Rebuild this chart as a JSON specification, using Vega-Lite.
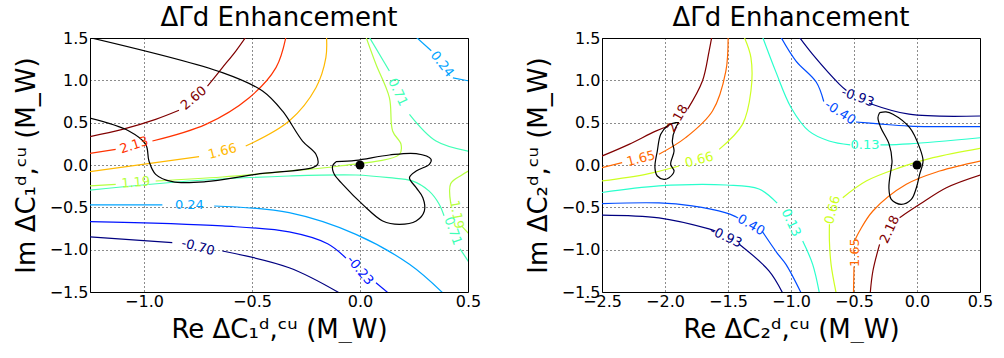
{
"$schema": "https://vega.github.io/schema/vega-lite/v6.json",
"padding": {"left": 12, "top": 4, "right": 5, "bottom": 0},
"spacing": 42,
"resolve": {"scale": {"color": "independent"}},
"config": {
 "font": "DejaVu Sans",
 "view": {"stroke": "black", "strokeWidth": 1},
 "axis": {"grid": true, "gridColor": "#000000", "gridDash": [1, 3], "gridWidth": 1, "gridOpacity": 0.9, "domain": false, "ticks": false, "labelFlush": false, "labelFontSize": 16, "labelColor": "black", "titleFontSize": 26, "titleFontWeight": "normal", "titleColor": "black"},
 "axisX": {"titlePadding": 7, "labelPadding": 1},
 "axisY": {"titlePadding": 10, "labelPadding": 2},
 "title": {"fontSize": 26, "fontWeight": "normal", "offset": -1, "baseline": "alphabetic", "color": "black"}
},
"datasets": {
 "cl": [
  {"lev":"2.60","seg":"2.60a","x":-1.26,"y":0.331},{"lev":"2.60","seg":"2.60a","x":-1.10,"y":0.421},{"lev":"2.60","seg":"2.60a","x":-0.946,"y":0.539},{"lev":"2.60","seg":"2.60a","x":-0.838,"y":0.646},
  {"lev":"2.60","seg":"2.60b","x":-0.706,"y":0.933},{"lev":"2.60","seg":"2.60b","x":-0.637,"y":1.15},{"lev":"2.60","seg":"2.60b","x":-0.575,"y":1.346},{"lev":"2.60","seg":"2.60b","x":-0.529,"y":1.51},
  {"lev":"2.13","seg":"2.13a","x":-1.26,"y":0.134},{"lev":"2.13","seg":"2.13a","x":-1.131,"y":0.185},
  {"lev":"2.13","seg":"2.13b","x":-0.961,"y":0.283},{"lev":"2.13","seg":"2.13b","x":-0.714,"y":0.48},{"lev":"2.13","seg":"2.13b","x":-0.513,"y":0.795},{"lev":"2.13","seg":"2.13b","x":-0.389,"y":1.15},{"lev":"2.13","seg":"2.13b","x":-0.343,"y":1.51},
  {"lev":"1.66","seg":"1.66a","x":-1.26,"y":-0.083},{"lev":"1.66","seg":"1.66a","x":-0.745,"y":0.098},
  {"lev":"1.66","seg":"1.66b","x":-0.529,"y":0.224},{"lev":"1.66","seg":"1.66b","x":-0.328,"y":0.52},{"lev":"1.66","seg":"1.66b","x":-0.204,"y":0.913},{"lev":"1.66","seg":"1.66b","x":-0.158,"y":1.268},{"lev":"1.66","seg":"1.66b","x":-0.155,"y":1.51},
  {"lev":"1.19","seg":"1.19a","x":-1.26,"y":-0.248},{"lev":"1.19","seg":"1.19a","x":-1.131,"y":-0.228},
  {"lev":"1.19","seg":"1.19b","x":-0.946,"y":-0.189},{"lev":"1.19","seg":"1.19b","x":-0.637,"y":-0.142},{"lev":"1.19","seg":"1.19b","x":-0.328,"y":-0.071},{"lev":"1.19","seg":"1.19b","x":-0.096,"y":-0.012},{"lev":"1.19","seg":"1.19b","x":0.182,"y":0.126},{"lev":"1.19","seg":"1.19b","x":0.19,"y":0.244},{"lev":"1.19","seg":"1.19b","x":0.151,"y":0.402},{"lev":"1.19","seg":"1.19b","x":0.136,"y":0.795},{"lev":"1.19","seg":"1.19b","x":0.074,"y":1.189},{"lev":"1.19","seg":"1.19b","x":0.028,"y":1.51},
  {"lev":"1.19","seg":"1.19c","x":0.51,"y":-0.06},{"lev":"1.19","seg":"1.19c","x":0.47,"y":-0.12},{"lev":"1.19","seg":"1.19c","x":0.42,"y":-0.22},{"lev":"1.19","seg":"1.19c","x":0.42,"y":-0.45},
  {"lev":"1.19","seg":"1.19d","x":0.47,"y":-0.72},{"lev":"1.19","seg":"1.19d","x":0.51,"y":-0.83},
  {"lev":"0.71","seg":"0.71a","x":0.043,"y":1.51},{"lev":"0.71","seg":"0.71a","x":0.136,"y":1.11},
  {"lev":"0.71","seg":"0.71b","x":0.229,"y":0.598},{"lev":"0.71","seg":"0.71b","x":0.352,"y":0.283},{"lev":"0.71","seg":"0.71b","x":0.51,"y":0.16},
  {"lev":"0.71","seg":"0.71c","x":-1.26,"y":-0.299},{"lev":"0.71","seg":"0.71c","x":-0.791,"y":-0.189},{"lev":"0.71","seg":"0.71c","x":-0.328,"y":-0.13},{"lev":"0.71","seg":"0.71c","x":-0.019,"y":-0.118},{"lev":"0.71","seg":"0.71c","x":0.136,"y":-0.15},{"lev":"0.71","seg":"0.71c","x":0.241,"y":-0.188},{"lev":"0.71","seg":"0.71c","x":0.319,"y":-0.306},{"lev":"0.71","seg":"0.71c","x":0.366,"y":-0.46},{"lev":"0.71","seg":"0.71c","x":0.389,"y":-0.6},
  {"lev":"0.71","seg":"0.71d","x":0.463,"y":-0.99},{"lev":"0.71","seg":"0.71d","x":0.51,"y":-1.17},
  {"lev":"0.24","seg":"0.24a","x":-1.26,"y":-0.472},{"lev":"0.24","seg":"0.24a","x":-0.915,"y":-0.472},
  {"lev":"0.24","seg":"0.24b","x":-0.675,"y":-0.484},{"lev":"0.24","seg":"0.24b","x":-0.328,"y":-0.563},{"lev":"0.24","seg":"0.24b","x":-0.019,"y":-0.819},{"lev":"0.24","seg":"0.24b","x":0.229,"y":-1.173},{"lev":"0.24","seg":"0.24b","x":0.383,"y":-1.51},
  {"lev":"0.24","seg":"0.24c","x":0.26,"y":1.51},{"lev":"0.24","seg":"0.24c","x":0.33,"y":1.35},
  {"lev":"0.24","seg":"0.24d","x":0.43,"y":1.03},{"lev":"0.24","seg":"0.24d","x":0.51,"y":0.99},
  {"lev":"-0.23","seg":"-0.23a","x":-1.26,"y":-0.669},{"lev":"-0.23","seg":"-0.23a","x":-0.637,"y":-0.72},{"lev":"-0.23","seg":"-0.23a","x":-0.328,"y":-0.79},{"lev":"-0.23","seg":"-0.23a","x":-0.15,"y":-0.93},{"lev":"-0.23","seg":"-0.23a","x":-0.065,"y":-1.1},
  {"lev":"-0.23","seg":"-0.23b","x":0.074,"y":-1.39},{"lev":"-0.23","seg":"-0.23b","x":0.13,"y":-1.51},
  {"lev":"-0.70","seg":"-0.70a","x":-1.26,"y":-0.846},{"lev":"-0.70","seg":"-0.70a","x":-0.869,"y":-0.917},
  {"lev":"-0.70","seg":"-0.70b","x":-0.637,"y":-1.016},{"lev":"-0.70","seg":"-0.70b","x":-0.328,"y":-1.213},{"lev":"-0.70","seg":"-0.70b","x":-0.096,"y":-1.51}
 ],
 "ll": [
  {"id":"a","lev":"2.60","x":-0.77,"y":0.79},
  {"id":"b","lev":"2.13","x":-1.046,"y":0.234},
  {"id":"c","lev":"1.66","x":-0.637,"y":0.161},
  {"id":"d","lev":"1.19","x":-1.038,"y":-0.208},
  {"id":"e","lev":"1.19","x":0.447,"y":-0.585},
  {"id":"f","lev":"0.71","x":0.175,"y":0.86},
  {"id":"g","lev":"0.71","x":0.43,"y":-0.78},
  {"id":"h","lev":"0.24","x":-0.79,"y":-0.472},
  {"id":"i","lev":"0.24","x":0.38,"y":1.19},
  {"id":"j","lev":"-0.23","x":0.0,"y":-1.245},
  {"id":"k","lev":"-0.70","x":-0.75,"y":-0.97}
 ],
 "bl": [
  {"seg":"B1","x":-1.26,"y":1.51},{"seg":"B1","x":-0.637,"y":1.091},{"seg":"B1","x":-0.451,"y":0.874},{"seg":"B1","x":-0.359,"y":0.638},{"seg":"B1","x":-0.266,"y":0.283},{"seg":"B1","x":-0.204,"y":0.126},{"seg":"B1","x":-0.196,"y":0.008},{"seg":"B1","x":-0.219,"y":-0.031},{"seg":"B1","x":-0.482,"y":-0.11},{"seg":"B1","x":-0.714,"y":-0.197},{"seg":"B1","x":-0.869,"y":-0.197},{"seg":"B1","x":-0.946,"y":-0.11},{"seg":"B1","x":-0.977,"y":0.047},{"seg":"B1","x":-0.992,"y":0.244},{"seg":"B1","x":-1.07,"y":0.402},{"seg":"B1","x":-1.26,"y":0.559},
  {"seg":"B2","x":-0.111,"y":0.039},{"seg":"B2","x":-0.019,"y":0.055},{"seg":"B2","x":0.136,"y":0.118},{"seg":"B2","x":0.26,"y":0.134},{"seg":"B2","x":0.329,"y":0.067},{"seg":"B2","x":0.321,"y":0.008},{"seg":"B2","x":0.26,"y":-0.071},{"seg":"B2","x":0.229,"y":-0.15},{"seg":"B2","x":0.26,"y":-0.268},{"seg":"B2","x":0.291,"y":-0.386},{"seg":"B2","x":0.298,"y":-0.543},{"seg":"B2","x":0.26,"y":-0.661},{"seg":"B2","x":0.182,"y":-0.701},{"seg":"B2","x":0.105,"y":-0.661},{"seg":"B2","x":0.012,"y":-0.465},{"seg":"B2","x":-0.08,"y":-0.228},{"seg":"B2","x":-0.119,"y":-0.11},{"seg":"B2","x":-0.127,"y":-0.012},{"seg":"B2","x":-0.111,"y":0.039}
 ],
 "cr": [
  {"lev":"2.18","seg":"2.18a","x":-2.51,"y":0.1},{"lev":"2.18","seg":"2.18a","x":-2.286,"y":0.244},{"lev":"2.18","seg":"2.18a","x":-2.074,"y":0.4},{"lev":"2.18","seg":"2.18a","x":-1.97,"y":0.46},
  {"lev":"2.18","seg":"2.18b","x":-1.82,"y":0.66},{"lev":"2.18","seg":"2.18b","x":-1.703,"y":0.992},{"lev":"2.18","seg":"2.18b","x":-1.65,"y":1.346},{"lev":"2.18","seg":"2.18b","x":-1.629,"y":1.51},
  {"lev":"2.18","seg":"2.18c","x":0.51,"y":-0.114},{"lev":"2.18","seg":"2.18c","x":0.233,"y":-0.268},{"lev":"2.18","seg":"2.18c","x":0.021,"y":-0.465},{"lev":"2.18","seg":"2.18c","x":-0.138,"y":-0.622},
  {"lev":"2.18","seg":"2.18d","x":-0.297,"y":-0.937},{"lev":"2.18","seg":"2.18d","x":-0.35,"y":-1.252},{"lev":"2.18","seg":"2.18d","x":-0.371,"y":-1.51},
  {"lev":"1.65","seg":"1.65a","x":-2.51,"y":-0.035},{"lev":"1.65","seg":"1.65a","x":-2.34,"y":0.028},
  {"lev":"1.65","seg":"1.65b","x":-2.048,"y":0.126},{"lev":"1.65","seg":"1.65b","x":-1.836,"y":0.323},{"lev":"1.65","seg":"1.65b","x":-1.623,"y":0.638},{"lev":"1.65","seg":"1.65b","x":-1.517,"y":1.11},{"lev":"1.65","seg":"1.65b","x":-1.499,"y":1.51},
  {"lev":"1.65","seg":"1.65c","x":0.51,"y":0.05},{"lev":"1.65","seg":"1.65c","x":0.18,"y":-0.071},{"lev":"1.65","seg":"1.65c","x":-0.085,"y":-0.228},{"lev":"1.65","seg":"1.65c","x":-0.35,"y":-0.543},{"lev":"1.65","seg":"1.65c","x":-0.456,"y":-0.78},{"lev":"1.65","seg":"1.65c","x":-0.49,"y":-0.88},
  {"lev":"1.65","seg":"1.65d","x":-0.5,"y":-1.2},{"lev":"1.65","seg":"1.65d","x":-0.504,"y":-1.51},
  {"lev":"0.66","seg":"0.66a","x":-2.51,"y":-0.19},{"lev":"0.66","seg":"0.66a","x":-2.154,"y":-0.11},{"lev":"0.66","seg":"0.66a","x":-1.889,"y":-0.012},
  {"lev":"0.66","seg":"0.66b","x":-1.57,"y":0.185},{"lev":"0.66","seg":"0.66b","x":-1.385,"y":0.48},{"lev":"0.66","seg":"0.66b","x":-1.318,"y":0.874},{"lev":"0.66","seg":"0.66b","x":-1.318,"y":1.268},{"lev":"0.66","seg":"0.66b","x":-1.371,"y":1.51},
  {"lev":"0.66","seg":"0.66c","x":0.51,"y":0.2},{"lev":"0.66","seg":"0.66c","x":0.127,"y":0.087},{"lev":"0.66","seg":"0.66c","x":-0.138,"y":-0.031},{"lev":"0.66","seg":"0.66c","x":-0.403,"y":-0.189},{"lev":"0.66","seg":"0.66c","x":-0.589,"y":-0.386},
  {"lev":"0.66","seg":"0.66d","x":-0.695,"y":-0.7},{"lev":"0.66","seg":"0.66d","x":-0.695,"y":-0.9},{"lev":"0.66","seg":"0.66d","x":-0.682,"y":-1.173},{"lev":"0.66","seg":"0.66d","x":-0.642,"y":-1.51},
  {"lev":"0.13","seg":"0.13a","x":-1.225,"y":1.51},{"lev":"0.13","seg":"0.13a","x":-1.12,"y":1.1},{"lev":"0.13","seg":"0.13a","x":-1.0,"y":0.68},{"lev":"0.13","seg":"0.13a","x":-0.857,"y":0.4},{"lev":"0.13","seg":"0.13a","x":-0.698,"y":0.284},{"lev":"0.13","seg":"0.13a","x":-0.53,"y":0.237},
  {"lev":"0.13","seg":"0.13b","x":-0.29,"y":0.237},{"lev":"0.13","seg":"0.13b","x":-0.063,"y":0.25},{"lev":"0.13","seg":"0.13b","x":0.51,"y":0.323},
  {"lev":"0.13","seg":"0.13c","x":-2.51,"y":-0.327},{"lev":"0.13","seg":"0.13c","x":-2.048,"y":-0.247},{"lev":"0.13","seg":"0.13c","x":-1.516,"y":-0.236},{"lev":"0.13","seg":"0.13c","x":-1.254,"y":-0.283},{"lev":"0.13","seg":"0.13c","x":-1.11,"y":-0.45},
  {"lev":"0.13","seg":"0.13d","x":-0.907,"y":-0.898},{"lev":"0.13","seg":"0.13d","x":-0.828,"y":-1.173},{"lev":"0.13","seg":"0.13d","x":-0.775,"y":-1.51},
  {"lev":"-0.40","seg":"-0.40a","x":-1.08,"y":1.51},{"lev":"-0.40","seg":"-0.40a","x":-0.96,"y":1.228},{"lev":"-0.40","seg":"-0.40a","x":-0.8,"y":0.98},{"lev":"-0.40","seg":"-0.40a","x":-0.74,"y":0.75},
  {"lev":"-0.40","seg":"-0.40b","x":-0.484,"y":0.508},{"lev":"-0.40","seg":"-0.40b","x":-0.302,"y":0.485},{"lev":"-0.40","seg":"-0.40b","x":-0.063,"y":0.46},{"lev":"-0.40","seg":"-0.40b","x":0.51,"y":0.453},
  {"lev":"-0.40","seg":"-0.40c","x":-2.51,"y":-0.457},{"lev":"-0.40","seg":"-0.40c","x":-2.048,"y":-0.448},{"lev":"-0.40","seg":"-0.40c","x":-1.786,"y":-0.483},{"lev":"-0.40","seg":"-0.40c","x":-1.516,"y":-0.566},{"lev":"-0.40","seg":"-0.40c","x":-1.44,"y":-0.61},
  {"lev":"-0.40","seg":"-0.40d","x":-1.23,"y":-0.78},{"lev":"-0.40","seg":"-0.40d","x":-1.11,"y":-1.04},{"lev":"-0.40","seg":"-0.40d","x":-1.04,"y":-1.173},{"lev":"-0.40","seg":"-0.40d","x":-0.92,"y":-1.51},
  {"lev":"-0.93","seg":"-0.93a","x":-0.934,"y":1.51},{"lev":"-0.93","seg":"-0.93a","x":-0.828,"y":1.307},{"lev":"-0.93","seg":"-0.93a","x":-0.615,"y":0.953},{"lev":"-0.93","seg":"-0.93a","x":-0.56,"y":0.88},
  {"lev":"-0.93","seg":"-0.93b","x":-0.38,"y":0.73},{"lev":"-0.93","seg":"-0.93b","x":-0.063,"y":0.6},{"lev":"-0.93","seg":"-0.93b","x":0.51,"y":0.579},
  {"lev":"-0.93","seg":"-0.93c","x":-2.51,"y":-0.591},{"lev":"-0.93","seg":"-0.93c","x":-2.048,"y":-0.625},{"lev":"-0.93","seg":"-0.93c","x":-1.651,"y":-0.755},{"lev":"-0.93","seg":"-0.93c","x":-1.6,"y":-0.78},
  {"lev":"-0.93","seg":"-0.93d","x":-1.413,"y":-0.932},{"lev":"-0.93","seg":"-0.93d","x":-1.175,"y":-1.25},{"lev":"-0.93","seg":"-0.93d","x":-1.067,"y":-1.51}
 ],
 "lr": [
  {"id":"a","lev":"2.18","x":-1.9,"y":0.55},
  {"id":"b","lev":"2.18","x":-0.217,"y":-0.76},
  {"id":"c","lev":"1.65","x":-2.19,"y":0.075},
  {"id":"d","lev":"1.65","x":-0.49,"y":-1.035},
  {"id":"e","lev":"0.66","x":-1.729,"y":0.06},
  {"id":"f","lev":"0.66","x":-0.67,"y":-0.53},
  {"id":"g","lev":"0.13","x":-0.413,"y":0.235},
  {"id":"h","lev":"0.13","x":-1.0,"y":-0.68},
  {"id":"i","lev":"-0.40","x":-0.61,"y":0.62},
  {"id":"j","lev":"-0.40","x":-1.333,"y":-0.696},
  {"id":"k","lev":"-0.93","x":-0.47,"y":0.8},
  {"id":"l","lev":"-0.93","x":-1.516,"y":-0.85}
 ],
 "br": [
  {"seg":"R1","x":-1.889,"y":0.5},{"seg":"R1","x":-1.915,"y":0.441},{"seg":"R1","x":-1.942,"y":0.283},{"seg":"R1","x":-1.928,"y":0.165},{"seg":"R1","x":-1.955,"y":0.008},{"seg":"R1","x":-1.928,"y":-0.071},{"seg":"R1","x":-1.968,"y":-0.15},{"seg":"R1","x":-2.008,"y":-0.169},{"seg":"R1","x":-2.061,"y":-0.13},{"seg":"R1","x":-2.08,"y":-0.031},{"seg":"R1","x":-2.061,"y":0.165},{"seg":"R1","x":-2.034,"y":0.362},{"seg":"R1","x":-1.981,"y":0.461},{"seg":"R1","x":-1.915,"y":0.5},{"seg":"R1","x":-1.889,"y":0.5},
  {"seg":"R2","x":-0.297,"y":0.618},{"seg":"R2","x":-0.246,"y":0.627},{"seg":"R2","x":-0.191,"y":0.6},{"seg":"R2","x":-0.058,"y":0.441},{"seg":"R2","x":0.021,"y":0.205},{"seg":"R2","x":0.048,"y":0.047},{"seg":"R2","x":0.021,"y":-0.11},{"seg":"R2","x":-0.005,"y":-0.268},{"seg":"R2","x":-0.045,"y":-0.406},{"seg":"R2","x":-0.125,"y":-0.465},{"seg":"R2","x":-0.204,"y":-0.406},{"seg":"R2","x":-0.223,"y":-0.268},{"seg":"R2","x":-0.204,"y":-0.031},{"seg":"R2","x":-0.198,"y":0.048},{"seg":"R2","x":-0.222,"y":0.249},{"seg":"R2","x":-0.286,"y":0.437},{"seg":"R2","x":-0.31,"y":0.559},{"seg":"R2","x":-0.297,"y":0.618}
 ],
 "dot": [{"x":0,"y":0}]
},
"hconcat": [
 {
  "width": 378, "height": 254,
  "title": "ΔΓd Enhancement",
  "encoding": {
   "x": {"field":"x","type":"quantitative","scale":{"domain":[-1.25,0.5],"nice":false,"zero":false},"axis":{"values":[-1,-0.5,0,0.5],"format":".1f","title":"Re ΔC₁ᵈ,ᶜᵘ (M_W)"}},
   "y": {"field":"y","type":"quantitative","scale":{"domain":[-1.5,1.5],"nice":false,"zero":false},"axis":{"values":[-1.5,-1,-0.5,0,0.5,1,1.5],"format":".1f","title":"Im ΔC₁ᵈ,ᶜᵘ (M_W)"}}
  },
  "layer": [
   {"data":{"name":"cl"},"mark":{"type":"line","interpolate":"catmull-rom","strokeWidth":1.2,"clip":true},
    "encoding":{"color":{"field":"lev","type":"nominal","scale":{"domain":["-0.70","-0.23","0.24","0.71","1.19","1.66","2.13","2.60"],"range":["#000080","#0012ff","#00a4ff","#41ffb6","#b6ff41","#ffb900","#ff3200","#800000"]},"legend":null},"detail":{"field":"seg"},"order":{"value":null}}},
   {"data":{"name":"bl"},"mark":{"type":"line","interpolate":"catmull-rom","strokeWidth":1.2,"color":"black","clip":true},
    "encoding":{"detail":{"field":"seg"},"order":{"value":null}}},
   {"data":{"name":"dot"},"mark":{"type":"point","filled":true,"color":"black","size":80,"opacity":1}},
   {"data":{"name":"ll"},
    "encoding":{"text":{"field":"lev"},"color":{"field":"lev","type":"nominal","scale":{"domain":["-0.70","-0.23","0.24","0.71","1.19","1.66","2.13","2.60"],"range":["#000080","#0012ff","#00a4ff","#41ffb6","#b6ff41","#ffb900","#ff3200","#800000"]},"legend":null}},
    "layer":[
     {"transform":[{"filter":"datum.id=='a'"}],"mark":{"type":"text","fontSize":13,"angle":-40}},
     {"transform":[{"filter":"datum.id=='b'"}],"mark":{"type":"text","fontSize":13,"angle":-18}},
     {"transform":[{"filter":"datum.id=='c'"}],"mark":{"type":"text","fontSize":13,"angle":-15}},
     {"transform":[{"filter":"datum.id=='d'"}],"mark":{"type":"text","fontSize":13,"angle":-5}},
     {"transform":[{"filter":"datum.id=='e'"}],"mark":{"type":"text","fontSize":13,"angle":80}},
     {"transform":[{"filter":"datum.id=='f'"}],"mark":{"type":"text","fontSize":13,"angle":65}},
     {"transform":[{"filter":"datum.id=='g'"}],"mark":{"type":"text","fontSize":13,"angle":70}},
     {"transform":[{"filter":"datum.id=='h'"}],"mark":{"type":"text","fontSize":13,"angle":0}},
     {"transform":[{"filter":"datum.id=='i'"}],"mark":{"type":"text","fontSize":13,"angle":52}},
     {"transform":[{"filter":"datum.id=='j'"}],"mark":{"type":"text","fontSize":13,"angle":50}},
     {"transform":[{"filter":"datum.id=='k'"}],"mark":{"type":"text","fontSize":13,"angle":15}}
    ]}
  ]
 },
 {
  "width": 378, "height": 254,
  "title": "ΔΓd Enhancement",
  "encoding": {
   "x": {"field":"x","type":"quantitative","scale":{"domain":[-2.5,0.5],"nice":false,"zero":false},"axis":{"values":[-2.5,-2,-1.5,-1,-0.5,0,0.5],"format":".1f","title":"Re ΔC₂ᵈ,ᶜᵘ (M_W)"}},
   "y": {"field":"y","type":"quantitative","scale":{"domain":[-1.5,1.5],"nice":false,"zero":false},"axis":{"values":[-1.5,-1,-0.5,0,0.5,1,1.5],"format":".1f","title":"Im ΔC₂ᵈ,ᶜᵘ (M_W)"}}
  },
  "layer": [
   {"data":{"name":"cr"},"mark":{"type":"line","interpolate":"catmull-rom","strokeWidth":1.2,"clip":true},
    "encoding":{"color":{"field":"lev","type":"nominal","scale":{"domain":["-0.93","-0.40","0.13","0.66","1.65","2.18"],"range":["#000080","#004cff","#29ffcd","#cdff21","#ff6800","#800000"]},"legend":null},"detail":{"field":"seg"},"order":{"value":null}}},
   {"data":{"name":"br"},"mark":{"type":"line","interpolate":"catmull-rom","strokeWidth":1.2,"color":"black","clip":true},
    "encoding":{"detail":{"field":"seg"},"order":{"value":null}}},
   {"data":{"name":"dot"},"mark":{"type":"point","filled":true,"color":"black","size":80,"opacity":1}},
   {"data":{"name":"lr"},
    "encoding":{"text":{"field":"lev"},"color":{"field":"lev","type":"nominal","scale":{"domain":["-0.93","-0.40","0.13","0.66","1.65","2.18"],"range":["#000080","#004cff","#29ffcd","#cdff21","#ff6800","#800000"]},"legend":null}},
    "layer":[
     {"transform":[{"filter":"datum.id=='a'"}],"mark":{"type":"text","fontSize":13,"angle":-60}},
     {"transform":[{"filter":"datum.id=='b'"}],"mark":{"type":"text","fontSize":13,"angle":-65}},
     {"transform":[{"filter":"datum.id=='c'"}],"mark":{"type":"text","fontSize":13,"angle":-15}},
     {"transform":[{"filter":"datum.id=='d'"}],"mark":{"type":"text","fontSize":13,"angle":-90}},
     {"transform":[{"filter":"datum.id=='e'"}],"mark":{"type":"text","fontSize":13,"angle":-15}},
     {"transform":[{"filter":"datum.id=='f'"}],"mark":{"type":"text","fontSize":13,"angle":-75}},
     {"transform":[{"filter":"datum.id=='g'"}],"mark":{"type":"text","fontSize":13,"angle":0}},
     {"transform":[{"filter":"datum.id=='h'"}],"mark":{"type":"text","fontSize":13,"angle":65}},
     {"transform":[{"filter":"datum.id=='i'"}],"mark":{"type":"text","fontSize":13,"angle":33}},
     {"transform":[{"filter":"datum.id=='j'"}],"mark":{"type":"text","fontSize":13,"angle":30}},
     {"transform":[{"filter":"datum.id=='k'"}],"mark":{"type":"text","fontSize":13,"angle":20}},
     {"transform":[{"filter":"datum.id=='l'"}],"mark":{"type":"text","fontSize":13,"angle":25}}
    ]}
  ]
 }
]
}
